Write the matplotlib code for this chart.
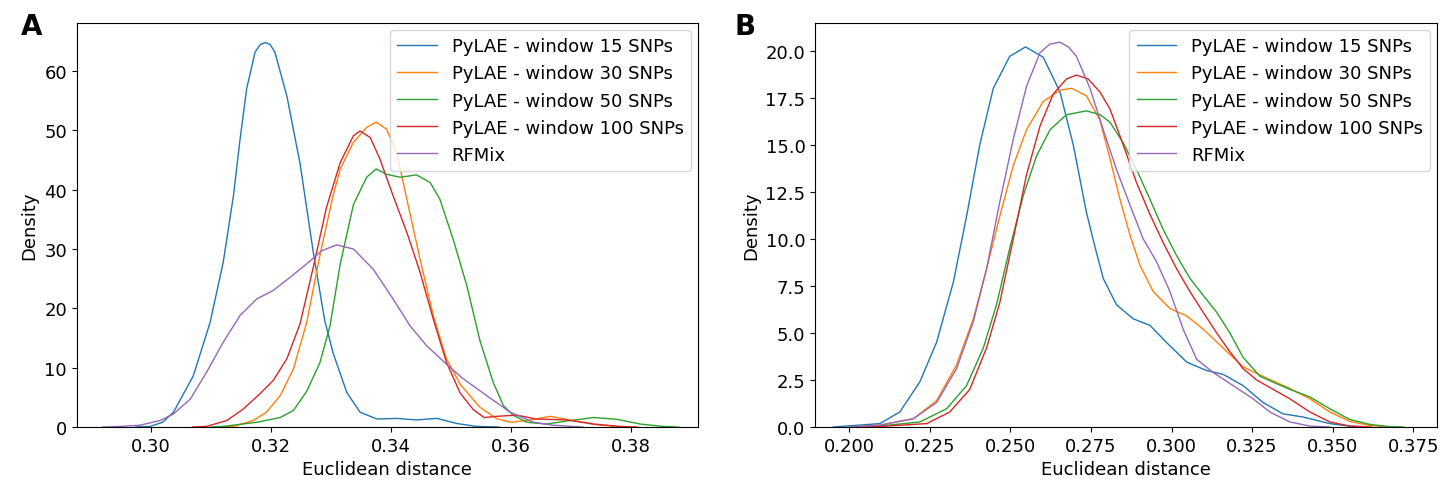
import numpy as np
import matplotlib.pyplot as plt

# 图例标签
labels = ['PyLAE - window 15 SNPs', 'PyLAE - window 30 SNPs', 'PyLAE - window 50 SNPs',
          'PyLAE - window 100 SNPs', 'RFMix']
colors = ['#1f77b4', '#ff7f0e', '#2ca02c', '#d62728', '#9467bd']

# A 面板：密度曲线（从图中读取的点）
a15_x = [0.2975, 0.2999, 0.3020, 0.3038, 0.3071, 0.3099, 0.3121, 0.3138, 0.3149, 0.3160, 0.3174, 0.3183,
         0.3191, 0.3199, 0.3207, 0.3227, 0.3249, 0.3271, 0.3290, 0.3304, 0.3316, 0.3327, 0.3349,
         0.3377, 0.3410, 0.3443, 0.3477, 0.3510, 0.3543, 0.3580]
a15_y = [0.0, 0.1, 0.8, 2.5, 8.6, 17.6, 27.8, 39.0, 48.5, 57.0, 63.2, 64.5,
         64.8, 64.5, 63.2, 55.8, 44.4, 29.5, 18.0, 12.5, 9.0, 5.8, 2.5,
         1.35, 1.45, 1.2, 1.45, 0.6, 0.1, 0.0]

a30_x = [0.3110, 0.3138, 0.3171, 0.3193, 0.3216, 0.3238, 0.3260, 0.3282, 0.3304, 0.3316, 0.3338, 0.3360,
         0.3376, 0.3393, 0.3410, 0.3427, 0.3449, 0.3471, 0.3493, 0.3516, 0.3549, 0.3577, 0.3600,
         0.3627, 0.3666, 0.3704, 0.3743, 0.3780, 0.3810]
a30_y = [0.0, 0.1, 1.1, 2.5, 5.3, 9.8, 17.6, 28.9, 39.0, 43.5, 48.0, 50.5,
         51.4, 50.2, 46.3, 38.4, 28.3, 18.8, 11.5, 7.2, 3.3, 1.4, 0.8,
         1.1, 1.8, 1.1, 0.4, 0.05, 0.0]

a50_x = [0.3100, 0.3121, 0.3177, 0.3216, 0.3238, 0.3260, 0.3282, 0.3299, 0.3316, 0.3338, 0.3360, 0.3376,
         0.3393, 0.3416, 0.3443, 0.3466, 0.3482, 0.3504, 0.3527, 0.3549, 0.3571, 0.3588, 0.3604,
         0.3627, 0.3660, 0.3693, 0.3738, 0.3777, 0.3816, 0.3854, 0.3880]
a50_y = [0.0, 0.1, 0.8, 1.6, 2.8, 6.0, 10.8, 17.1, 27.5, 37.5, 42.1, 43.5,
         42.6, 42.1, 42.5, 41.2, 38.4, 31.7, 23.8, 14.5, 7.5, 3.6, 2.0,
         0.8, 0.5, 1.0, 1.6, 1.3, 0.5, 0.1, 0.0]

a100_x = [0.3070, 0.3093, 0.3127, 0.3154, 0.3182, 0.3204, 0.3227, 0.3249, 0.3271, 0.3293, 0.3316, 0.3338,
          0.3349, 0.3366, 0.3382, 0.3404, 0.3427, 0.3449, 0.3471, 0.3493, 0.3516, 0.3538, 0.3556,
          0.3577, 0.3610, 0.3643, 0.3693, 0.3738, 0.3782, 0.3810]
a100_y = [0.0, 0.1, 1.1, 3.0, 5.6, 7.8, 11.5, 17.4, 26.9, 37.0, 44.6, 49.1,
          49.9, 48.8, 45.2, 39.0, 32.8, 26.1, 18.2, 10.9, 5.7, 2.9, 1.6,
          1.8, 2.0, 1.35, 1.2, 0.5, 0.1, 0.0]

arf_x = [0.2920, 0.2950, 0.2982, 0.3016, 0.3038, 0.3066, 0.3093, 0.3121, 0.3149, 0.3177, 0.3204, 0.3232,
         0.3260, 0.3285, 0.3310, 0.3338, 0.3371, 0.3404, 0.3432, 0.3460, 0.3493, 0.3520, 0.3560,
         0.3599, 0.3638, 0.3671, 0.3720]
arf_y = [0.0, 0.1, 0.3, 1.1, 2.2, 4.7, 9.2, 14.3, 18.8, 21.6, 23.0, 25.2,
         27.5, 29.7, 30.7, 30.0, 26.6, 21.6, 17.1, 13.7, 10.6, 8.2, 5.3,
         2.5, 0.8, 0.3, 0.0]

# B 面板
b15_x = [0.1950, 0.2095, 0.2157, 0.2219, 0.2271, 0.2323, 0.2364, 0.2405, 0.2447, 0.2498, 0.2547, 0.2602,
         0.2654, 0.2695, 0.2736, 0.2762, 0.2788, 0.2829, 0.2881, 0.2933, 0.2984, 0.3047, 0.3109,
         0.3160, 0.3222, 0.3284, 0.3346, 0.3408, 0.3491, 0.3553, 0.3600]
b15_y = [0.0, 0.18, 0.8, 2.4, 4.5, 7.7, 11.2, 15.0, 18.0, 19.7, 20.2, 19.65,
         17.8, 15.0, 11.4, 9.6, 7.9, 6.5, 5.75, 5.4, 4.5, 3.45, 3.0,
         2.8, 2.2, 1.3, 0.7, 0.53, 0.18, 0.05, 0.0]

b30_x = [0.2000, 0.2095, 0.2199, 0.2271, 0.2333, 0.2385, 0.2426, 0.2467, 0.2509, 0.2550, 0.2602, 0.2654,
         0.2690, 0.2736, 0.2778, 0.2809, 0.2840, 0.2871, 0.2902, 0.2943, 0.2995, 0.3047, 0.3098,
         0.3160, 0.3222, 0.3295, 0.3367, 0.3429, 0.3491, 0.3553, 0.3615, 0.3680]
b30_y = [0.0, 0.1, 0.44, 1.4, 3.3, 5.75, 8.4, 11.2, 13.9, 15.8, 17.3, 17.9,
         18.0, 17.6, 16.3, 14.25, 12.1, 10.2, 8.6, 7.2, 6.3, 5.9, 5.2,
         4.2, 3.2, 2.6, 2.05, 1.5, 0.8, 0.3, 0.08, 0.0]

b50_x = [0.2000, 0.2095, 0.2219, 0.2302, 0.2364, 0.2416, 0.2457, 0.2498, 0.2540, 0.2581, 0.2623, 0.2674,
         0.2736, 0.2778, 0.2809, 0.2850, 0.2891, 0.2933, 0.2974, 0.3016, 0.3057, 0.3098, 0.3140,
         0.3181, 0.3222, 0.3274, 0.3326, 0.3367, 0.3429, 0.3491, 0.3553, 0.3615, 0.3677, 0.3720]
b50_y = [0.0, 0.05, 0.27, 0.97, 2.2, 4.2, 6.5, 9.5, 12.3, 14.4, 15.8, 16.6,
         16.8, 16.6, 16.2, 15.1, 13.7, 12.1, 10.5, 9.1, 7.9, 7.0, 6.1,
         5.0, 3.7, 2.7, 2.3, 2.0, 1.6, 0.97, 0.4, 0.14, 0.02, 0.0]

b100_x = [0.2020, 0.2095, 0.2240, 0.2312, 0.2374, 0.2426, 0.2467, 0.2509, 0.2550, 0.2592, 0.2633, 0.2674,
          0.2705, 0.2741, 0.2778, 0.2809, 0.2850, 0.2891, 0.2933, 0.2974, 0.3016, 0.3057, 0.3098,
          0.3140, 0.3181, 0.3222, 0.3264, 0.3305, 0.3367, 0.3429, 0.3491, 0.3553, 0.3620]
b100_y = [0.0, 0.03, 0.18, 0.8, 2.0, 4.2, 6.6, 10.0, 13.4, 16.0, 17.7, 18.5,
          18.7, 18.5, 17.8, 16.9, 15.0, 13.0, 11.3, 9.8, 8.4, 7.2, 6.1,
          5.0, 4.0, 3.1, 2.5, 2.1, 1.5, 0.8, 0.27, 0.05, 0.0]

brf_x = [0.2000, 0.2095, 0.2199, 0.2271, 0.2333, 0.2385, 0.2426, 0.2467, 0.2509, 0.2550, 0.2592, 0.2623,
         0.2654, 0.2680, 0.2705, 0.2747, 0.2788, 0.2829, 0.2871, 0.2912, 0.2953, 0.2995, 0.3036,
         0.3078, 0.3129, 0.3191, 0.3253, 0.3305, 0.3367, 0.3429, 0.3490]
brf_y = [0.0, 0.1, 0.44, 1.3, 3.1, 5.6, 8.4, 11.95, 15.3, 18.1, 19.9, 20.35,
         20.45, 20.2, 19.7, 18.0, 15.8, 13.7, 11.8, 10.0, 8.8, 7.2, 5.2,
         3.6, 2.9, 2.2, 1.5, 0.8, 0.27, 0.05, 0.0]

fig = plt.figure(figsize=(14.55, 4.85), dpi=100)
axA = fig.add_axes([0.0527, 0.1175, 0.4270, 0.8330])
axB = fig.add_axes([0.5603, 0.1175, 0.4275, 0.8330])

seriesA = [(a15_x, a15_y), (a30_x, a30_y), (a50_x, a50_y), (a100_x, a100_y), (arf_x, arf_y)]
seriesB = [(b15_x, b15_y), (b30_x, b30_y), (b50_x, b50_y), (b100_x, b100_y), (brf_x, brf_y)]

for ax, series in [(axA, seriesA), (axB, seriesB)]:
    for (xs, ys), lab, c in zip(series, labels, colors):
        ax.plot(xs, ys, color=c, lw=1.0, label=lab, solid_joinstyle='round')
    ax.set_xlabel('Euclidean distance', fontsize=13)
    ax.set_ylabel('Density', fontsize=13)
    ax.tick_params(labelsize=13)
    ax.legend(loc='upper right', fontsize=13, handlelength=2.2, borderaxespad=0.4)

axA.set_xlim(0.28767, 0.39122)
axA.set_ylim(0, 68.1)
axA.set_xticks([0.30, 0.32, 0.34, 0.36, 0.38])
axA.set_xticklabels(['0.30', '0.32', '0.34', '0.36', '0.38'])
axA.set_yticks([0, 10, 20, 30, 40, 50, 60])

axB.set_xlim(0.18945, 0.38244)
axB.set_ylim(0, 21.47)
axB.set_xticks([0.200, 0.225, 0.250, 0.275, 0.300, 0.325, 0.350, 0.375])
axB.set_xticklabels(['0.200', '0.225', '0.250', '0.275', '0.300', '0.325', '0.350', '0.375'])
axB.set_yticks([0, 2.5, 5, 7.5, 10, 12.5, 15, 17.5, 20])
axB.set_yticklabels(['0.0', '2.5', '5.0', '7.5', '10.0', '12.5', '15.0', '17.5', '20.0'])

fig.text(0.014, 0.945, 'A', fontsize=20, fontweight='bold', va='center')
fig.text(0.505, 0.945, 'B', fontsize=20, fontweight='bold', va='center')

fig.savefig('out.png', dpi=100)
